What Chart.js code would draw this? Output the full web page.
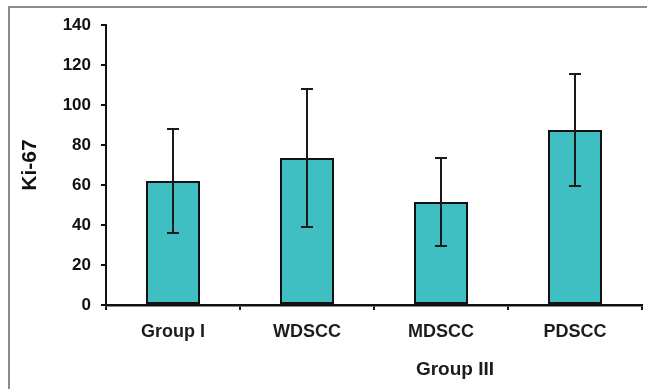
<!DOCTYPE html>
<html>
<head>
<meta charset="utf-8">
<script src="https://cdn.jsdelivr.net/npm/chart.js@4/dist/chart.umd.min.js"></script>
<style>
  html, body { margin: 0; padding: 0; background: #fff; }
  #wrap { width: 647px; height: 389px; position: relative; }
</style>
</head>
<body>
<div id="wrap"><canvas id="chart"></canvas></div>
<script>
const categories = ["Group I", "WDSCC", "MDSCC", "PDSCC"]
const means      = [62, 73.5, 51.5, 87.5]
const errors     = [26, 34.5, 22, 28]
const yTicks     = [0, 20, 40, 60, 80, 100, 120, 140]
const yTitle     = "Ki-67"
const xTitle     = "Group III"

const barColor = "#40BFC3"
const inkColor = "#1c1c1c"
const fontFamily = "'Liberation Sans', Arial, sans-serif"

// error bars drawn from the means/errors arrays through the scales
const errorBars = {
  id: "errorBars",
  afterDatasetsDraw(chart) {
    const { ctx, scales: { x, y } } = chart
    ctx.save()
    ctx.strokeStyle = "#1a1a1a"
    ctx.lineWidth = 2
    means.forEach((m, i) => {
      const cx = x.getPixelForValue(i)
      const top = y.getPixelForValue(m + errors[i])
      const bot = y.getPixelForValue(m - errors[i])
      ctx.beginPath()
      ctx.moveTo(cx, top); ctx.lineTo(cx, bot)
      ctx.moveTo(cx - 6, top); ctx.lineTo(cx + 6, top)
      ctx.moveTo(cx - 6, bot); ctx.lineTo(cx + 6, bot)
      ctx.stroke()
    })
    ctx.restore()
  }
}

// gray frame on top/left and the "Group III" caption
const decor = {
  id: "decor",
  afterDraw(chart) {
    const { ctx, chartArea } = chart
    ctx.save()
    ctx.strokeStyle = "#8c8c8c"
    ctx.lineWidth = 2
    ctx.beginPath()
    ctx.moveTo(9, 389); ctx.lineTo(9, 7); ctx.lineTo(647, 7)
    ctx.stroke()
    ctx.fillStyle = inkColor
    ctx.font = "bold 19px " + fontFamily
    ctx.textAlign = "center"
    ctx.textBaseline = "middle"
    ctx.fillText(xTitle, 455, chartArea.bottom + 65)
    ctx.restore()
  }
}

new Chart(document.getElementById("chart"), {
  type: "bar",
  data: {
    labels: categories,
    datasets: [{
      data: means,
      backgroundColor: barColor,
      borderColor: "#111",
      borderWidth: 2,
      borderSkipped: false,
      categoryPercentage: 1,
      barPercentage: 0.403
    }]
  },
  plugins: [errorBars, decor],
  options: {
    responsive: true,
    maintainAspectRatio: false,
    animation: false,
    layout: { padding: { top: 25, right: 5, left: 0, bottom: 0 } },
    plugins: {
      legend: { display: false },
      tooltip: { enabled: false }
    },
    scales: {
      x: {
        afterFit: (s) => { s.height = 84 },
        grid: { drawOnChartArea: false, drawTicks: true, tickLength: 5, color: "#111", lineWidth: 2 },
        border: { color: "#111", width: 2.5 },
        ticks: { color: inkColor, padding: 11, font: { family: fontFamily, size: 18, weight: "bold" } }
      },
      y: {
        min: 0,
        max: 140,
        afterFit: (s) => { s.width = 106 },
        afterBuildTicks: (s) => { s.ticks = yTicks.map(v => ({ value: v })) },
        grid: { drawOnChartArea: false, drawTicks: true, tickLength: 5, color: "#111", lineWidth: 2 },
        border: { color: "#111", width: 2 },
        ticks: { color: "#111", padding: 10, font: { family: fontFamily, size: 17, weight: "bold" } },
        title: {
          display: true,
          text: yTitle,
          color: "#111",
          padding: { top: 18, bottom: 0 },
          font: { family: fontFamily, size: 21, weight: "bold" }
        }
      }
    }
  }
})
</script>
</body>
</html>
